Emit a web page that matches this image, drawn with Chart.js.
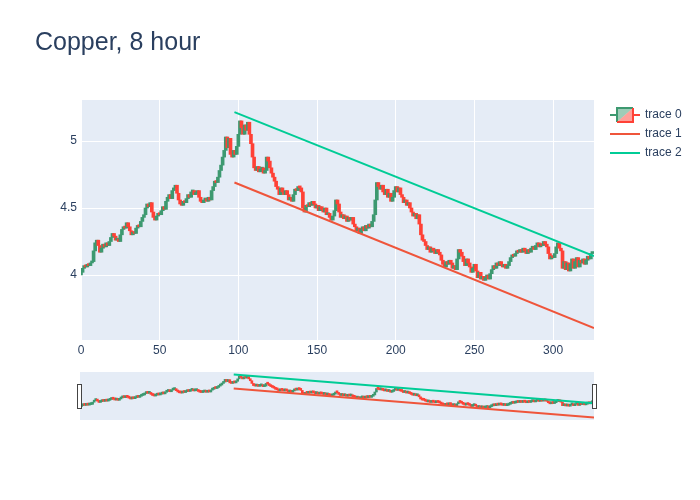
<!DOCTYPE html>
<html>
<head>
<meta charset="utf-8">
<script src="https://cdn.jsdelivr.net/npm/chart.js@4"></script>
<style>
  body { margin: 0; background: #fff; }
  #wrap { position: relative; width: 700px; height: 500px; }
  #main { position: absolute; left: 0; top: 0; }
  #slider { position: absolute; left: 70px; top: 365px; }
</style>
</head>
<body>
<div id="wrap">
  <canvas id="main" width="700" height="500"></canvas>
  <canvas id="slider" width="540" height="60"></canvas>
</div>
<script>
const title = 'Copper, 8 hour';

// closing price of each 8 hour candle (index = x)
const closes = [
  4.02, 4.05, 4.07, 4.06, 4.08, 4.07, 4.09, 4.10, 4.18, 4.24,
  4.26, 4.22, 4.17, 4.20, 4.23, 4.21, 4.24, 4.22, 4.25, 4.28,
  4.31, 4.29, 4.26, 4.27, 4.25, 4.30, 4.34, 4.36, 4.35, 4.39,
  4.36, 4.33, 4.30, 4.32, 4.31, 4.35, 4.37, 4.36, 4.40, 4.43,
  4.45, 4.50, 4.53, 4.51, 4.54, 4.47, 4.43, 4.41, 4.44, 4.46,
  4.45, 4.48, 4.51, 4.49, 4.55, 4.58, 4.60, 4.57, 4.63, 4.65,
  4.67, 4.61, 4.56, 4.53, 4.52, 4.55, 4.54, 4.57, 4.60, 4.58,
  4.62, 4.63, 4.60, 4.61, 4.63, 4.58, 4.55, 4.54, 4.56, 4.57,
  4.55, 4.58, 4.56, 4.63, 4.66, 4.70, 4.69, 4.73, 4.78, 4.82,
  4.88, 4.93, 5.03, 4.95, 5.02, 4.90, 4.88, 4.93, 4.90, 4.96,
  5.05, 5.15, 5.10, 5.05, 5.12, 5.08, 5.14, 5.05, 4.98, 4.88,
  4.80, 4.78, 4.81, 4.77, 4.79, 4.80, 4.76, 4.78, 4.88, 4.85,
  4.80, 4.76, 4.73, 4.70, 4.66, 4.64, 4.60, 4.65, 4.62, 4.60,
  4.63, 4.60, 4.56, 4.58, 4.55, 4.60, 4.64, 4.63, 4.66, 4.65,
  4.62, 4.50, 4.47, 4.52, 4.51, 4.54, 4.52, 4.55, 4.53, 4.50,
  4.52, 4.48, 4.51, 4.49, 4.47, 4.50, 4.45, 4.46, 4.43, 4.41,
  4.44, 4.48, 4.56, 4.53, 4.47, 4.43, 4.45, 4.42, 4.44, 4.40,
  4.43, 4.41, 4.43, 4.38, 4.36, 4.33, 4.35, 4.31, 4.34, 4.36,
  4.33, 4.37, 4.35, 4.38, 4.36, 4.40, 4.45, 4.56, 4.69, 4.66,
  4.64, 4.67, 4.62, 4.60, 4.64, 4.58, 4.61, 4.55, 4.58, 4.63,
  4.66, 4.62, 4.65, 4.60, 4.58, 4.54, 4.56, 4.52, 4.54, 4.50,
  4.47, 4.44, 4.46, 4.42, 4.45, 4.38, 4.30, 4.26, 4.25, 4.22,
  4.19, 4.21, 4.17, 4.20, 4.18, 4.16, 4.19, 4.17, 4.15, 4.11,
  4.08, 4.06, 4.10, 4.08, 4.11, 4.09, 4.05, 4.07, 4.04, 4.12,
  4.19, 4.17, 4.14, 4.10, 4.07, 4.12, 4.09, 4.06, 4.02, 4.05,
  4.08, 4.03, 3.98, 4.02, 3.97, 3.99, 3.96, 3.98, 4.00, 3.97,
  4.01, 4.04, 4.07, 4.05, 4.09, 4.07, 4.10, 4.08, 4.06, 4.08,
  4.05, 4.07, 4.10, 4.13, 4.15, 4.14, 4.16, 4.18, 4.17, 4.19,
  4.17, 4.20, 4.18, 4.16, 4.19, 4.17, 4.20, 4.21, 4.19, 4.22,
  4.24, 4.21, 4.23, 4.22, 4.25, 4.23, 4.21, 4.16, 4.12, 4.14,
  4.13, 4.16, 4.21, 4.24, 4.20, 4.18, 4.05, 4.10, 4.04, 4.09,
  4.03, 4.08, 4.12, 4.05, 4.10, 4.13, 4.06, 4.11, 4.09, 4.12,
  4.08, 4.11, 4.14, 4.12, 4.16, 4.17
];
const firstOpen = 4.00;

// trend lines (trace 1 = support, trace 2 = resistance)
const supportX = [97.5, 326];
const supportY = [4.69, 3.604];
const resistX = [97.5, 326];
const resistY = [5.216, 4.142];

const xTicks = [0, 50, 100, 150, 200, 250, 300];
const yTicks = [4, 4.5, 5];
const xRange = [0, 326];
const yRange = [3.515, 5.306];

const UP = '#3D9970', DOWN = '#FF4136';
const C1 = '#EF553B', C2 = '#00CC96';
const INK = '#2a3f5f';
const FONT = '"Liberation Sans", Arial, sans-serif';

const candles = closes.map((c, i) => {
  const o = i === 0 ? firstOpen : closes[i - 1];
  return { x: i, y: [o, c], up: c >= o };
});
const candleColor = ctx => (ctx.raw && ctx.raw.up ? UP : DOWN);

function makeDatasets(thick, lineW) {
  return [
    {
      type: 'bar', label: 'trace 0', data: candles, order: 2,
      backgroundColor: candleColor, borderWidth: 0,
      barThickness: thick, minBarLength: 2
    },
    {
      type: 'line', label: 'trace 1', order: 1,
      data: supportX.map((x, i) => ({ x, y: supportY[i] })),
      borderColor: C1, borderWidth: lineW, pointRadius: 0
    },
    {
      type: 'line', label: 'trace 2', order: 0,
      data: resistX.map((x, i) => ({ x, y: resistY[i] })),
      borderColor: C2, borderWidth: lineW, pointRadius: 0
    }
  ];
}

const plotBg = {
  id: 'plotBg',
  beforeDraw(chart) {
    const { ctx, chartArea: a } = chart;
    ctx.save();
    ctx.fillStyle = '#E5ECF6';
    ctx.fillRect(a.left, a.top, a.right - a.left, a.bottom - a.top);
    ctx.restore();
  }
};

const decor = {
  id: 'decor',
  afterDraw(chart) {
    const ctx = chart.ctx;
    ctx.save();
    ctx.fillStyle = INK;
    ctx.font = '25px ' + FONT;
    ctx.textBaseline = 'alphabetic';
    ctx.fillText(title, 35, 50);

    // legend
    ctx.font = '12px ' + FONT;
    ctx.textBaseline = 'middle';
    const lx = 610, ys = [115, 134, 153];
    // candle icon
    ctx.lineWidth = 2;
    ctx.strokeStyle = UP;
    ctx.beginPath(); ctx.moveTo(lx, ys[0]); ctx.lineTo(lx + 7, ys[0]); ctx.stroke();
    ctx.fillStyle = 'rgba(61,153,112,0.5)';
    ctx.beginPath(); ctx.moveTo(lx + 7, ys[0] + 7); ctx.lineTo(lx + 7, ys[0] - 7); ctx.lineTo(lx + 23, ys[0] - 7); ctx.closePath(); ctx.fill();
    ctx.fillStyle = 'rgba(255,65,54,0.5)';
    ctx.beginPath(); ctx.moveTo(lx + 7, ys[0] + 7); ctx.lineTo(lx + 23, ys[0] - 7); ctx.lineTo(lx + 23, ys[0] + 7); ctx.closePath(); ctx.fill();
    ctx.strokeStyle = UP;
    ctx.beginPath(); ctx.moveTo(lx + 7, ys[0] + 7); ctx.lineTo(lx + 7, ys[0] - 7); ctx.lineTo(lx + 23, ys[0] - 7); ctx.stroke();
    ctx.strokeStyle = DOWN;
    ctx.beginPath(); ctx.moveTo(lx + 7, ys[0] + 7); ctx.lineTo(lx + 23, ys[0] + 7); ctx.lineTo(lx + 23, ys[0] - 7); ctx.stroke();
    ctx.beginPath(); ctx.moveTo(lx + 23, ys[0]); ctx.lineTo(lx + 30, ys[0]); ctx.stroke();
    // line icons
    [C1, C2].forEach((c, i) => {
      ctx.strokeStyle = c;
      ctx.beginPath(); ctx.moveTo(lx, ys[i + 1]); ctx.lineTo(lx + 30, ys[i + 1]); ctx.stroke();
    });
    ctx.fillStyle = INK;
    ['trace 0', 'trace 1', 'trace 2'].forEach((t, i) => ctx.fillText(t, lx + 35, ys[i]));
    ctx.restore();
  }
};

new Chart(document.getElementById('main'), {
  type: 'bar',
  data: { datasets: makeDatasets(3, 2) },
  options: {
    responsive: false,
    animation: false,
    layout: { padding: { left: 0, right: 106, top: 100, bottom: 140 } },
    plugins: { legend: { display: false }, tooltip: { enabled: false } },
    scales: {
      x: {
        type: 'linear', min: xRange[0], max: xRange[1], offset: false,
        afterBuildTicks: s => { s.ticks = xTicks.map(v => ({ value: v })); },
        afterFit: s => { s.height = 20; },
        grid: { color: '#fff', lineWidth: 1, drawTicks: false, offset: false },
        border: { display: false },
        ticks: { color: INK, font: { size: 12, family: FONT }, padding: 3, maxRotation: 0,
                 callback: v => String(v) }
      },
      y: {
        min: yRange[0], max: yRange[1],
        afterBuildTicks: s => { s.ticks = yTicks.map(v => ({ value: v })); },
        afterFit: s => { s.width = 81; },
        grid: { color: '#fff', lineWidth: 1, drawTicks: false },
        border: { display: false },
        ticks: { color: INK, font: { size: 12, family: FONT }, padding: 4,
                 callback: v => String(v) }
      }
    }
  },
  plugins: [plotBg, decor]
});

const handles = {
  id: 'handles',
  afterDraw(chart) {
    const { ctx, chartArea: a } = chart;
    ctx.save();
    ctx.fillStyle = '#fff';
    ctx.strokeStyle = '#444';
    ctx.lineWidth = 1;
    [a.left - 2.5, a.right - 1.5].forEach(x => {
      ctx.fillRect(x, a.top + 12.5, 4, 24);
      ctx.strokeRect(x, a.top + 12.5, 4, 24);
    });
    ctx.restore();
  }
};

new Chart(document.getElementById('slider'), {
  type: 'bar',
  data: { datasets: makeDatasets(2, 2) },
  options: {
    responsive: false,
    animation: false,
    layout: { padding: { left: 10, right: 16, top: 7, bottom: 5 } },
    plugins: { legend: { display: false }, tooltip: { enabled: false } },
    scales: {
      x: { type: 'linear', min: xRange[0], max: xRange[1], offset: false, display: false },
      y: { min: yRange[0], max: yRange[1], display: false }
    }
  },
  plugins: [plotBg, handles]
});
</script>
</body>
</html>
